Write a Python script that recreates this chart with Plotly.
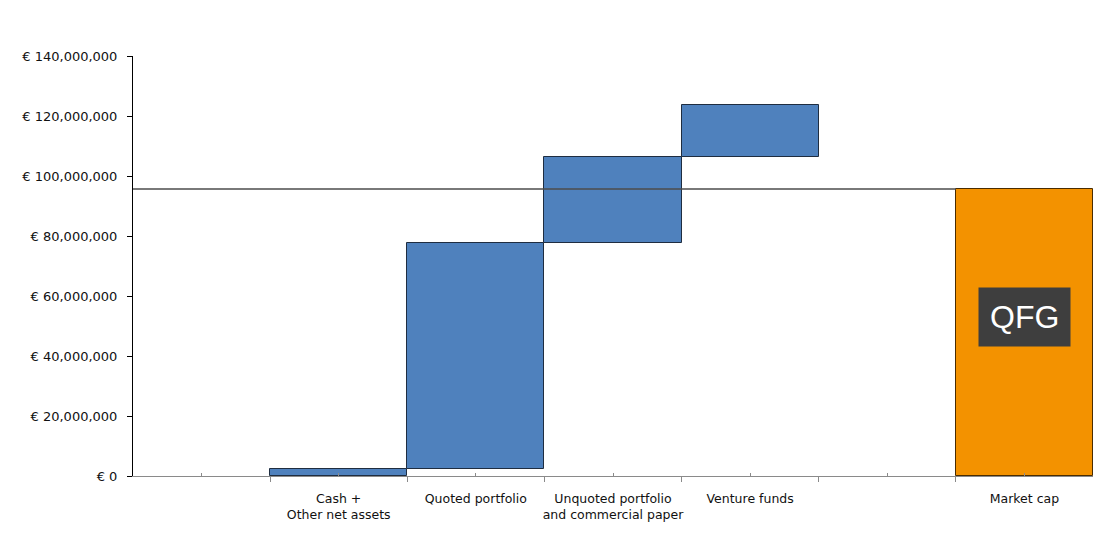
import plotly.graph_objects as go

# Data (values in euros)
categories = ["", "Cash +<br>Other net assets", "Quoted portfolio",
              "Unquoted portfolio<br>and commercial paper", "Venture funds", "", "Market cap"]
steps = ["Cash +<br>Other net assets", "Quoted portfolio",
         "Unquoted portfolio<br>and commercial paper", "Venture funds"]
step_values = [2_400_000, 75_300_000, 28_600_000, 17_400_000]
market_cap = 95_700_000
y_ticks = [0, 20_000_000, 40_000_000, 60_000_000, 80_000_000, 100_000_000, 120_000_000, 140_000_000]
y_ticktext = ["€ " + format(v, ",d") for v in y_ticks]

pos = {c: i + 0.5 for i, c in enumerate(categories) if c}

bases = []
run = 0
for v in step_values:
    bases.append(run)
    run += v

fig = go.Figure()
fig.add_trace(go.Bar(
    x=[pos[s] for s in steps], y=step_values, base=bases, width=1,
    marker=dict(color="#4F81BD", line=dict(color="#1F2D40", width=1)),
    showlegend=False, hoverinfo="skip"))
fig.add_trace(go.Bar(
    x=[pos["Market cap"]], y=[market_cap], base=[0], width=1,
    marker=dict(color="#F39200", line=dict(color="#4A2C00", width=1)),
    showlegend=False, hoverinfo="skip"))
fig.add_trace(go.Scatter(
    x=[0, pos["Market cap"] - 0.5], y=[market_cap, market_cap], mode="lines",
    line=dict(color="#4d4d4d", width=1.5), showlegend=False, hoverinfo="skip"))

fig.add_annotation(x=pos["Market cap"], y=53_000_000, xref="x", yref="y",
                   text="QFG", showarrow=False,
                   font=dict(family="Liberation Sans, Arial", size=32, color="white"),
                   bgcolor="#3E3E3E", borderpad=11)

fig.update_layout(
    width=1109, height=533,
    margin=dict(l=133, r=16, t=56, b=57),
    plot_bgcolor="white", paper_bgcolor="white",
    bargap=0,
    font=dict(family="DejaVu Sans, Verdana", size=13, color="#111111"),
)
fig.update_xaxes(
    range=[0, 7], showgrid=False, zeroline=False,
    showline=True, linecolor="#8a8a8a", linewidth=1,
    tickvals=[i + 0.5 for i in range(7)], ticktext=categories,
    ticks="inside", ticklen=3, tickcolor="#8a8a8a",
    ticklabelstandoff=11,
    tickfont=dict(family="DejaVu Sans, Verdana", size=12.5),
    minor=dict(tickvals=list(range(8)), ticks="outside", ticklen=5, tickcolor="#8a8a8a"),
)
fig.update_yaxes(
    range=[0, 140_000_000], showgrid=False, zeroline=False,
    showline=True, linecolor="black", linewidth=1,
    tickvals=y_ticks, ticktext=y_ticktext,
    ticks="outside", ticklen=5, tickcolor="black",
    ticklabelstandoff=7,
    tickfont=dict(family="DejaVu Sans, Verdana", size=13),
)

fig.write_html("out.html")
